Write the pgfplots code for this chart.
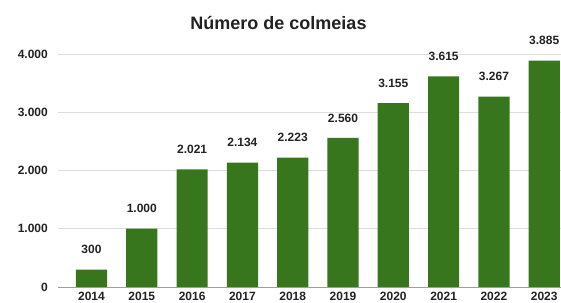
\documentclass[border=0pt]{standalone}
\usepackage{pgfplots}
\pgfplotsset{compat=1.18}
\usepackage{fontspec}
\setmainfont{Liberation Sans}
\definecolor{bargreen}{HTML}{38761D}
\definecolor{txt}{HTML}{222222}
\definecolor{gridc}{HTML}{DDDDDD}
\definecolor{axc}{HTML}{9E9E9E}
\begin{document}
\begin{tikzpicture}[x=1pt,y=1pt]
\path[use as bounding box] (0,0) rectangle (561,302);
\begin{axis}[
  at={(58pt,15pt)}, anchor=south west,
  scale only axis, width=503pt, height=233pt,
  xmin=-0.666, xmax=9.334, ymin=0, ymax=4000,
  ybar, bar width=0.62,
  axis line style={draw=none},
  axis x line*=bottom,
  ytick={0,1000,2000,3000,4000},
  xtick={0,1,2,3,4,5,6,7,8,9},
  xticklabels={2014,2015,2016,2017,2018,2019,2020,2021,2022,2023},
  major tick length=0pt,
  ymajorgrids, grid style={draw=gridc, line width=0.9pt},
  /pgf/number format/.cd, 1000 sep={.}, assume math mode=true,
  /pgfplots/.cd,
  yticklabel style={anchor=east, inner sep=0pt, xshift=-10pt, font=\bfseries\fontsize{12}{14}\selectfont, text=txt},
  xticklabel style={anchor=north, inner sep=0pt, yshift=-5pt, font=\bfseries\fontsize{12}{14}\selectfont, text=txt},
  nodes near coords,
  every node near coord/.append style={anchor=south, inner sep=0pt, yshift=15.5pt, font=\bfseries\fontsize{12}{14}\selectfont, text=txt},
  clip=false,
]
\addplot[fill=bargreen, draw=none] coordinates {
(0,300) (1,1000) (2,2021) (3,2134) (4,2223) (5,2560) (6,3155) (7,3615) (8,3267) (9,3885)};
\draw[axc, line width=0.9pt] (axis cs:-0.666,0) -- (axis cs:9.334,0);
\end{axis}
\node[anchor=base, inner sep=0pt, text=txt, font=\bfseries\fontsize{18}{20}\selectfont] at (278.5,272) {Número de colmeias};
\end{tikzpicture}
\end{document}
